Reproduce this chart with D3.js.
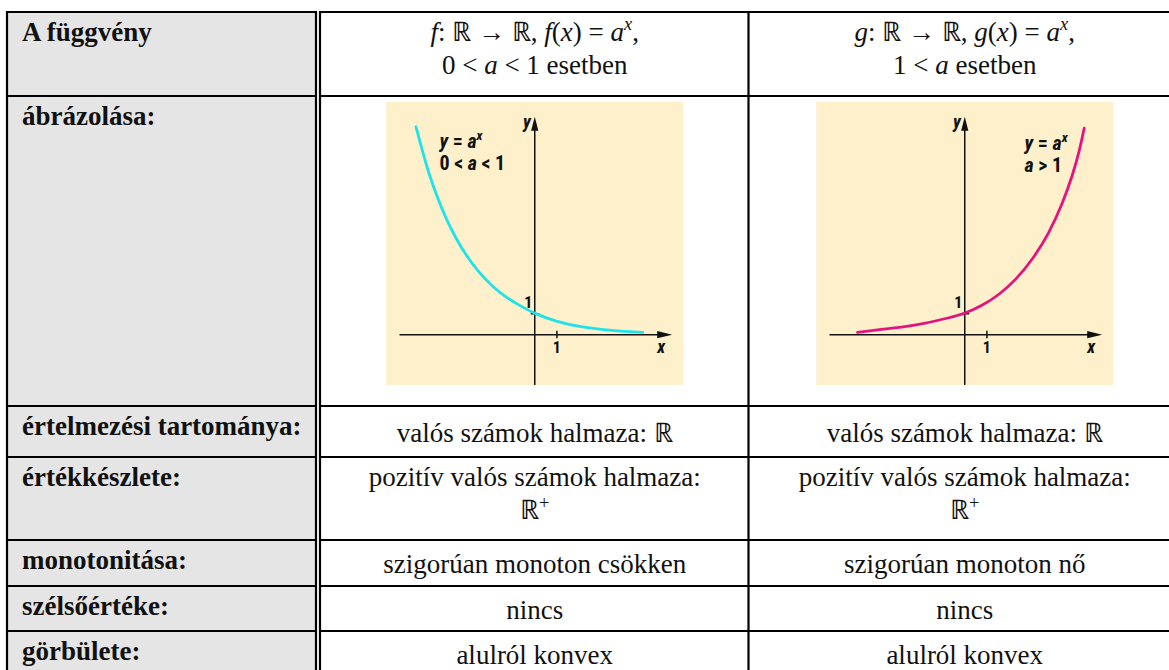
<!DOCTYPE html>
<html>
<head>
<meta charset="utf-8">
<script src="https://cdn.jsdelivr.net/npm/d3@7"></script>
<style>
  body { margin: 0; background: #fff; }
  svg { display: block; }
</style>
</head>
<body>
<div id="chart"></div>
<script>
// row headings (left column)
const rowLabels = ["A függvény", "ábrázolása:", "értelmezési tartománya:", "értékkészlete:",
  "monotonitása:", "szélsőértéke:", "görbülete:"]

// cell texts: _ toggles italic, ^ toggles superscript, | breaks the line
const fCells = ["_f_: ℝ → ℝ, _f_(_x_) = _a_^_x_^,|0 < _a_ < 1 esetben", null,
  "valós számok halmaza: ℝ", "pozitív valós számok halmaza:|ℝ^+^",
  "szigorúan monoton csökken", "nincs", "alulról konvex"]
const gCells = ["_g_: ℝ → ℝ, _g_(_x_) = _a_^_x_^,|1 < _a_ esetben", null,
  "valós számok halmaza: ℝ", "pozitív valós számok halmaza:|ℝ^+^",
  "szigorúan monoton nő", "nincs", "alulról konvex"]

// curves (x, y in picture units)
const decayX = [-5.36, -5.06, -4.76, -4.38, -4.01, -3.56, -3.11, -2.50, -1.90, -1.30, -0.70, 0, 0.96, 2.01, 3.51, 4.87]
const decayY = [9.92, 8.73, 7.62, 6.51, 5.55, 4.60, 3.80, 2.93, 2.29, 1.79, 1.40, 1.0, 0.63, 0.37, 0.19, 0.11]
const growthX = [-4.84, -3.26, -1.75, -0.70, 0, 0.80, 1.56, 2.31, 3.06, 3.81, 4.41, 4.87, 5.17, 5.39]
const growthY = [0.11, 0.30, 0.54, 0.81, 1.0, 1.39, 1.91, 2.62, 3.58, 4.85, 6.25, 7.62, 8.75, 9.85]
const axisX = [-6.1, 6.2]
const axisY = [-2.4, 10.4]
const unitTicks = [1]

const W = 1169, H = 670
const rowY = [12, 96, 406, 457, 540, 586, 631, 676]
const colL = 7, colSplit = 316, colMid = 748.5, colR = 1181
const colCenter = [(colSplit + 5 + colMid) / 2, (colMid + colR) / 2]
const fs = 27

// pick the first installed face from a list
const ctx = document.createElement('canvas').getContext('2d')
const hasFont = name => {
  const s = 'mmmmmmmmmlli WWW 0123 ő'
  return ['monospace', 'sans-serif', 'serif'].some(base => {
    ctx.font = `40px ${base}`
    const w0 = ctx.measureText(s).width
    ctx.font = `40px "${name}", ${base}`
    return ctx.measureText(s).width !== w0
  })
}
const pickFont = (list, generic) => {
  const found = list.find(hasFont)
  return found ? `"${found}", ${generic}` : generic
}
const serifFont = pickFont(["Liberation Serif", "Times New Roman", "Tinos", "Nimbus Roman",
  "Nimbus Roman No9 L", "FreeSerif", "Noto Serif", "DejaVu Serif", "Georgia", "STIX Two Text",
  "Droid Serif", "Source Serif Pro", "Noto Serif CJK SC", "Noto Serif CJK JP"], 'serif')
const sansFont = pickFont(["Liberation Sans Narrow", "Arial Narrow", "Roboto Condensed",
  "DejaVu Sans Condensed", "Liberation Sans", "Arimo", "Arial"], 'sans-serif')

const svg = d3.select('#chart').append('svg')
  .attr('width', W).attr('height', H)

svg.append('rect').attr('width', W).attr('height', H).attr('fill', '#fff')

// grey heading column
svg.append('rect')
  .attr('x', colL).attr('y', rowY[0])
  .attr('width', colSplit - colL - 1).attr('height', rowY[rowY.length - 1] - rowY[0])
  .attr('fill', '#e5e5e5')

const addRich = (sel, str, x, y, size, anchor, family, weight) => {
  const t = sel.append('text')
    .attr('x', x).attr('y', y)
    .attr('text-anchor', anchor)
    .style('font-family', family)
    .style('font-size', size + 'px')
    .style('font-weight', weight || 'normal')
    .attr('fill', '#111')
  let ital = false, sup = false, buf = ''
  const segs = []
  for (const ch of str) {
    if (ch === '_' || ch === '^') {
      if (buf) segs.push({buf, ital, sup})
      buf = ''
      if (ch === '_') ital = !ital
      else sup = !sup
    } else buf += ch
  }
  if (buf) segs.push({buf, ital, sup})
  let shifted = false
  segs.forEach(s => {
    const ts = t.append('tspan').text(s.buf)
    if (s.ital) ts.style('font-style', 'italic')
    if (s.sup) {
      ts.style('font-size', (size * 0.68) + 'px')
      if (!shifted) { ts.attr('dy', -size * 0.38); shifted = true }
    } else if (shifted) {
      ts.attr('dy', size * 0.38); shifted = false
    }
  })
  return t
}

// left column headings
rowLabels.forEach((d, i) => {
  addRich(svg, d, 22, rowY[i] + 28.5, fs, 'start', serifFont, 'bold')
})

// text cells
const drawCells = (cells, cx) => {
  cells.forEach((d, i) => {
    if (!d) return
    const lines = d.split('|')
    const top = rowY[i], bottom = rowY[i + 1]
    lines.forEach((line, j) => {
      const y = lines.length === 1
        ? (top + bottom) / 2 + 10
        : top + 28.5 + j * 33.5
      addRich(svg, line, cx, y, fs, 'middle', serifFont)
    })
  })
}
drawCells(fCells, colCenter[0])
drawCells(gCells, colCenter[1])

// the two pictures
const panelW = 297, panelTop = 102, panelBottom = 385
const panels = [
  {cx: colCenter[0], xs: decayX, ys: decayY, color: '#1fe3ea',
    label: ["_y_ = _a_^_x_^", "0 < _a_ < 1"], labelAt: [-4.3, 8.91]},
  {cx: colCenter[1], xs: growthX, ys: growthY, color: '#e5137f',
    label: ["_y_ = _a_^_x_^", "_a_ > 1"], labelAt: [2.7, 8.81]}
]

const sansText = (g, x, y, anchor, size, italic, txt) =>
  g.append('text')
    .attr('x', x).attr('y', y)
    .attr('text-anchor', anchor)
    .style('font-family', sansFont)
    .style('font-weight', 'bold')
    .style('font-style', italic ? 'italic' : 'normal')
    .style('font-size', size + 'px')
    .attr('fill', '#111')
    .text(txt)

panels.forEach(p => {
  const left = p.cx - panelW / 2
  const x = d3.scaleLinear().domain([-6.7, 6.7]).range([left, left + panelW])
  const y = d3.scaleLinear().domain([-2.4, 11.1]).range([panelBottom, panelTop])
  const g = svg.append('g').attr('class', 'panel')

  g.append('rect')
    .attr('x', left).attr('y', panelTop)
    .attr('width', panelW).attr('height', panelBottom - panelTop)
    .attr('fill', '#fdf0cb')

  // axes
  const tipX = x(axisX[1]), tipY = y(axisY[1])
  g.append('line')
    .attr('x1', x(axisX[0])).attr('x2', tipX - 8)
    .attr('y1', y(0)).attr('y2', y(0))
    .attr('stroke', '#111').attr('stroke-width', 1.5)
  g.append('path')
    .attr('d', `M${tipX},${y(0)} L${tipX - 15},${y(0) - 3.6} L${tipX - 15},${y(0) + 3.6} Z`)
    .attr('fill', '#111')
  g.append('line')
    .attr('x1', x(0)).attr('x2', x(0))
    .attr('y1', y(axisY[0])).attr('y2', tipY + 8)
    .attr('stroke', '#111').attr('stroke-width', 1.5)
  g.append('path')
    .attr('d', `M${x(0)},${tipY} L${x(0) - 3.6},${tipY + 14} L${x(0) + 3.6},${tipY + 14} Z`)
    .attr('fill', '#111')

  // unit ticks
  unitTicks.forEach(t => {
    g.append('line')
      .attr('x1', x(t)).attr('x2', x(t))
      .attr('y1', y(0) - 4).attr('y2', y(0) + 3.5)
      .attr('stroke', '#111').attr('stroke-width', 1.5)
    g.append('line')
      .attr('x1', x(0) - 4).attr('x2', x(0) + 4.5)
      .attr('y1', y(t)).attr('y2', y(t))
      .attr('stroke', '#111').attr('stroke-width', 1.5)
    sansText(g, x(t), y(0) + 18, 'middle', 16, false, t)
    sansText(g, x(0) - 2.5, y(t) - 6, 'end', 16, false, t)
  })

  // axis names
  sansText(g, tipX - 11, y(0) + 18, 'middle', 18, true, 'x')
  sansText(g, x(0) - 4, tipY + 11, 'end', 18, true, 'y')

  // curve
  const pts = p.xs.map((v, i) => [v, p.ys[i]])
  g.append('path')
    .datum(pts)
    .attr('fill', 'none')
    .attr('stroke', p.color)
    .attr('stroke-width', 2.8)
    .attr('stroke-linecap', 'round')
    .attr('d', d3.line().x(d => x(d[0])).y(d => y(d[1])).curve(d3.curveBasis))

  // formula label
  p.label.forEach((l, i) => {
    addRich(g, l, x(p.labelAt[0]), y(p.labelAt[1]) + i * 22, 20, 'start', sansFont, 'bold')
  })
})

// grid lines
const lineColor = '#000'
rowY.forEach(yv => {
  svg.append('line')
    .attr('x1', colL - 1).attr('x2', colR)
    .attr('y1', yv).attr('y2', yv)
    .attr('stroke', lineColor).attr('stroke-width', 2.2)
})
// white gap of the double rule
svg.append('rect')
  .attr('x', colSplit + 1).attr('y', rowY[0] - 2)
  .attr('width', 2).attr('height', H)
  .attr('fill', '#fff')
const vLines = [colL, colSplit, colSplit + 4, colMid, colR]
vLines.forEach(xv => {
  svg.append('line')
    .attr('x1', xv).attr('x2', xv)
    .attr('y1', rowY[0] - 1.1).attr('y2', H + 10)
    .attr('stroke', lineColor).attr('stroke-width', 2.2)
})
</script>
</body>
</html>
